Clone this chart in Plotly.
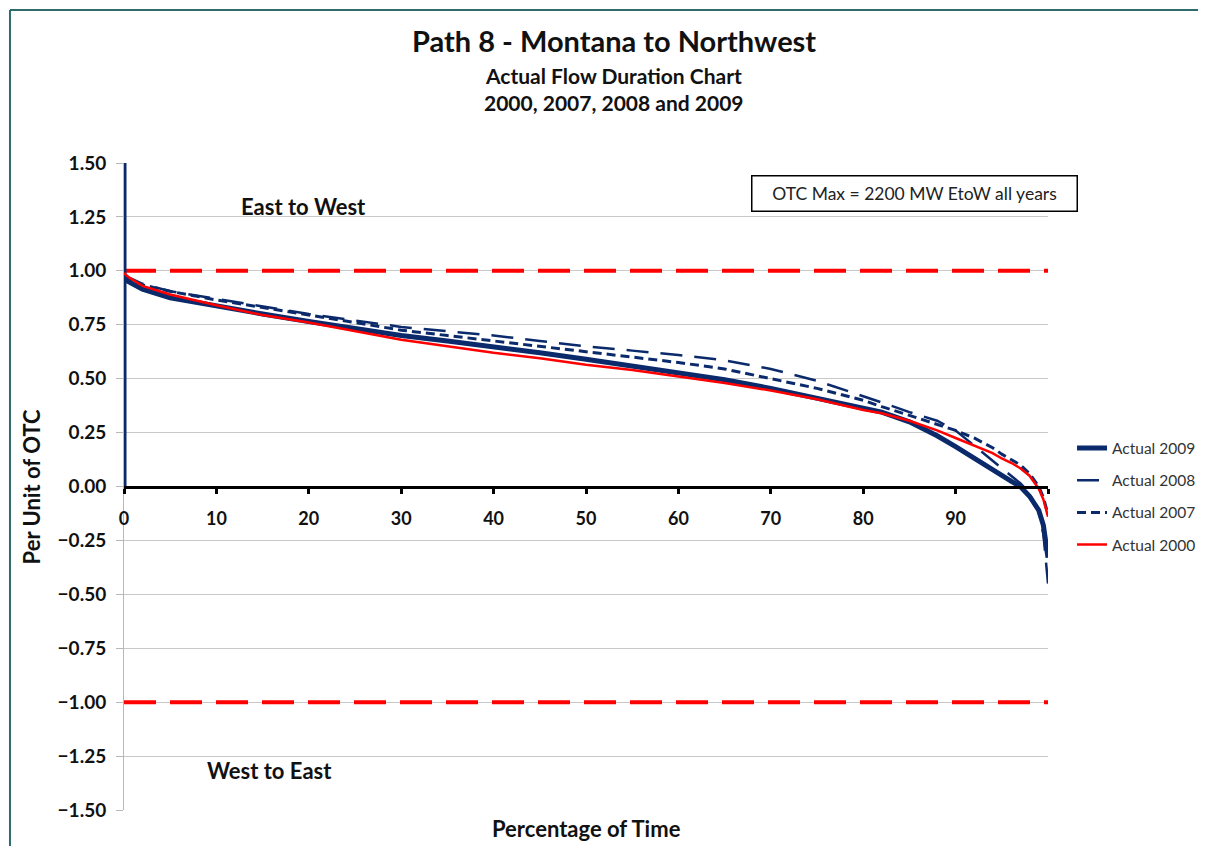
import plotly.graph_objects as go

# Percentage of time (x) shared by the duration curves
PCT = [0, 0.5, 2, 5, 10, 15, 20, 25, 30, 35, 40, 45, 50, 55, 60, 65, 70,
       75, 80, 82, 85, 88, 90, 92, 94, 95, 96, 97, 98, 99, 99.5, 100]

# Per unit of OTC for each year
ACTUAL_2009 = [0.97, 0.95, 0.915, 0.875, 0.835, 0.80, 0.765, 0.73, 0.70, 0.675,
               0.65, 0.62, 0.59, 0.56, 0.525, 0.495, 0.455, 0.41, 0.36, 0.345,
               0.30, 0.235, 0.185, 0.13, 0.08, 0.05, 0.025, 0.0, -0.045, -0.11,
               -0.18, -0.33]
ACTUAL_2008 = [0.985, 0.97, 0.94, 0.905, 0.87, 0.835, 0.80, 0.77, 0.74, 0.72,
               0.70, 0.675, 0.65, 0.63, 0.61, 0.585, 0.545, 0.49, 0.42, 0.39,
               0.345, 0.305, 0.26, 0.19, 0.12, 0.085, 0.05, 0.015, -0.03,
               -0.12, -0.22, -0.45]
ACTUAL_2007 = [0.975, 0.96, 0.935, 0.905, 0.865, 0.83, 0.795, 0.76, 0.725,
               0.70, 0.675, 0.65, 0.625, 0.60, 0.575, 0.545, 0.50, 0.455, 0.40,
               0.37, 0.33, 0.29, 0.26, 0.225, 0.18, 0.15, 0.125, 0.10, 0.06,
               0.0, -0.05, -0.13]
ACTUAL_2000 = [0.99, 0.97, 0.93, 0.89, 0.84, 0.795, 0.76, 0.72, 0.68, 0.65,
               0.62, 0.595, 0.565, 0.54, 0.51, 0.48, 0.445, 0.405, 0.355, 0.34,
               0.305, 0.26, 0.225, 0.19, 0.155, 0.13, 0.11, 0.085, 0.05, -0.01,
               -0.06, -0.14]

# 2009 series starts with a vertical spike at 0 %
SPIKE_PCT = [0, 0]
SPIKE_2009 = [0.0, 1.6]

OTC_LIMITS = [1.0, -1.0]
X_TICKS = [0, 10, 20, 30, 40, 50, 60, 70, 80, 90, 100]
X_LABELS = ["0", "10", "20", "30", "40", "50", "60", "70", "80", "90", ""]
Y_TICKS = [-1.5, -1.25, -1.0, -0.75, -0.5, -0.25, 0, 0.25, 0.5, 0.75, 1.0, 1.25, 1.5]

NAVY = "#0b2a6b"
RED = "#ff0000"
FRAME = "#2e6b6b"
FONT = "Lato"
TXT = "#111"

fig = go.Figure()

# OTC limit lines
for lim in OTC_LIMITS:
    fig.add_trace(go.Scatter(
        x=[0, 100], y=[lim, lim], mode="lines",
        line=dict(color=RED, width=4, dash="32px,14px"),
        showlegend=False, hoverinfo="skip"
    ))

fig.add_trace(go.Scatter(
    x=SPIKE_PCT + PCT, y=SPIKE_2009 + ACTUAL_2009, mode="lines",
    name="Actual 2009", legendgroup="a",
    line=dict(color=NAVY, width=5)
))
fig.add_trace(go.Scatter(
    x=PCT, y=ACTUAL_2008, mode="lines", name="Actual 2008", legendgroup="b",
    line=dict(color=NAVY, width=2.5, dash="22px,12px")
))
fig.add_trace(go.Scatter(
    x=PCT, y=ACTUAL_2007, mode="lines", name="Actual 2007", legendgroup="c",
    line=dict(color=NAVY, width=3, dash="9px,5px")
))
fig.add_trace(go.Scatter(
    x=PCT, y=ACTUAL_2000, mode="lines", name="Actual 2000", legendgroup="d",
    line=dict(color=RED, width=2.5)
))

# page margin puts the figure 8px in from the top-left; a slightly smaller
# figure keeps the page free of scrollbars
fig.update_layout(
    width=1190, height=838,
    margin=dict(l=116, r=150, t=155, b=36, autoexpand=False),
    paper_bgcolor="white", plot_bgcolor="white",
    font=dict(family=FONT, color=TXT),
    showlegend=True,
    legend=dict(x=1.026, y=0.585, xanchor="left", yanchor="top",
                font=dict(size=15.5, color="#333"), tracegroupgap=9,
                bgcolor="rgba(0,0,0,0)"),
    xaxis=dict(range=[0, 100], tickvals=X_TICKS, ticktext=X_LABELS,
               anchor="free", position=0.5, showline=True, linecolor="black",
               linewidth=3, ticks="outside", ticklen=5, tickwidth=3,
               tickcolor="black", showgrid=False, zeroline=False,
               ticklabelstandoff=10,
               tickfont=dict(size=18, family=FONT, color=TXT, weight="bold")),
    yaxis=dict(range=[-1.5, 1.5], tickvals=Y_TICKS, tickformat=".2f",
               showline=True, linecolor="#b8b8b8", linewidth=1,
               ticks="outside", ticklen=7, tickcolor="#b8b8b8",
               showgrid=True, gridcolor="#c8c8c8", gridwidth=1,
               zeroline=False, ticklabelstandoff=6,
               tickfont=dict(size=19, family=FONT, color=TXT, weight="bold")),
)


def paper_note(x, y, text, size, **kw):
    fig.add_annotation(x=x, y=y, xref="paper", yref="paper", showarrow=False,
                       xanchor="center", yanchor="middle", text=text,
                       font=dict(size=size, family=FONT, color=TXT), **kw)


# Titles
paper_note(0.53, 1.19, "<b>Path 8 - Montana to Northwest</b>", 29)
paper_note(0.53, 1.136, "<b>Actual Flow Duration Chart</b>", 21)
paper_note(0.53, 1.094, "<b>2000, 2007, 2008 and 2009</b>", 21)

# Axis titles
paper_note(-0.0996, 0.5, "<b>Per Unit of OTC</b>", 22, textangle=-90)
paper_note(0.5, -0.029, "<b>Percentage of Time</b>", 22)

# Direction labels
fig.add_annotation(x=19.4, y=1.30, showarrow=False, text="<b>East to West</b>",
                   font=dict(size=22, family=FONT, color=TXT))
fig.add_annotation(x=15.8, y=-1.317, showarrow=False, text="<b>West to East</b>",
                   font=dict(size=22, family=FONT, color=TXT))

# OTC note box
fig.add_annotation(x=85.6, y=1.359, showarrow=False,
                   text="OTC Max = 2200 MW EtoW all years",
                   width=322, height=32, bgcolor="white",
                   bordercolor="black", borderwidth=1.5,
                   font=dict(size=17.5, family=FONT, color="#222"))

# Outer frame of the chart (left and top edges only are in view)
fig.add_shape(type="line", xref="paper", yref="paper",
              x0=-0.1234, x1=-0.1234, y0=-0.3, y1=1.2365,
              line=dict(color=FRAME, width=2), layer="below")
fig.add_shape(type="line", xref="paper", yref="paper",
              x0=-0.1234, x1=1.4, y0=1.2365, y1=1.2365,
              line=dict(color=FRAME, width=2), layer="below")

fig.write_html("out.html")
